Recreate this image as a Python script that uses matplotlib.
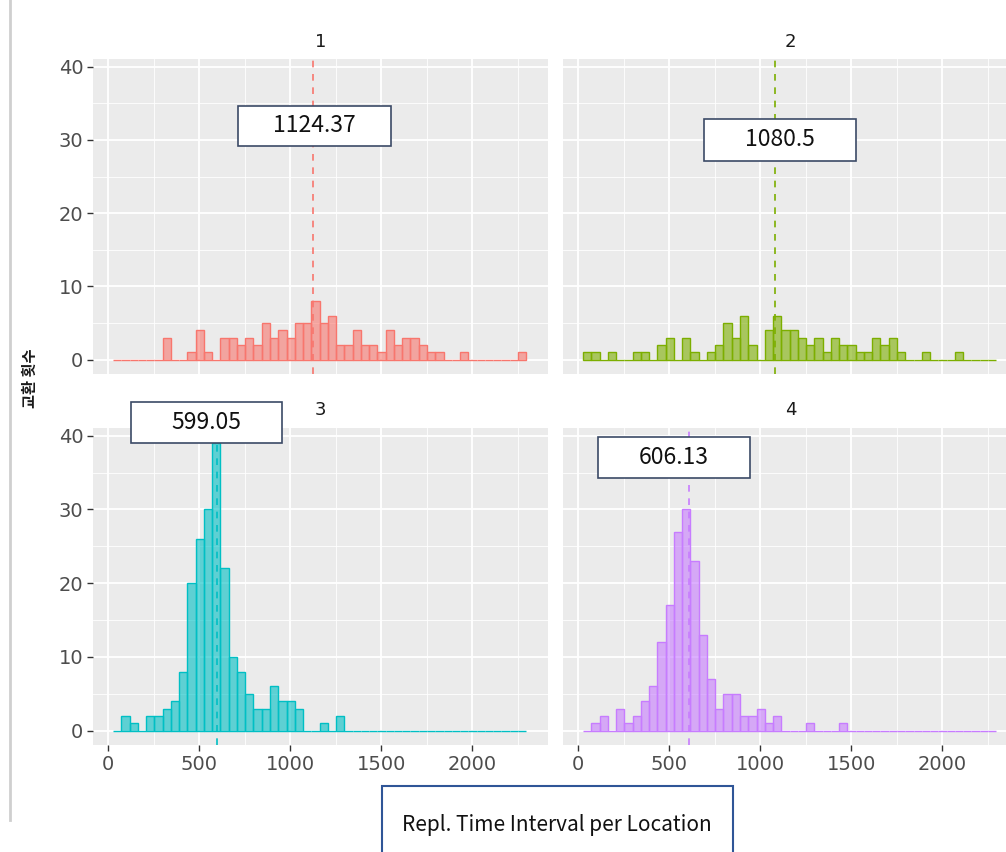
import matplotlib
matplotlib.use("Agg")
import matplotlib.pyplot as plt
from matplotlib.patches import Rectangle
from matplotlib.lines import Line2D
from matplotlib.colors import to_rgba
import numpy as np

plt.rcParams["font.family"] = ["DejaVu Sans"]

W, H = 1006, 852

# 50 histogram bins shared by all facets
bin_lo = 26.0
bin_w = 45.4

counts_1 = [0, 0, 0, 0, 0, 0, 3, 0, 0, 1, 4, 1, 0, 3, 3, 2, 3, 2, 5, 3,
            4, 3, 5, 5, 8, 5, 6, 2, 2, 4, 2, 2, 1, 4, 2, 3, 3, 2, 1, 1,
            0, 0, 1, 0, 0, 0, 0, 0, 0, 1]
counts_2 = [1, 1, 0, 1, 0, 0, 1, 1, 0, 2, 3, 0, 3, 1, 0, 1, 2, 5, 3, 6,
            2, 0, 4, 6, 4, 4, 3, 2, 3, 1, 3, 2, 2, 1, 1, 3, 2, 3, 1, 0,
            0, 1, 0, 0, 0, 1, 0, 0, 0, 0]
counts_3 = [0, 2, 1, 0, 2, 2, 3, 4, 8, 20, 26, 30, 39, 22, 10, 8, 5, 3, 3, 6,
            4, 4, 3, 0, 0, 1, 0, 2, 0, 0, 0, 0, 0, 0, 0, 0, 0, 0, 0, 0,
            0, 0, 0, 0, 0, 0, 0, 0, 0, 0]
counts_4 = [0, 1, 2, 0, 3, 1, 2, 4, 6, 12, 17, 27, 30, 23, 13, 7, 3, 5, 5, 2,
            2, 3, 1, 2, 0, 0, 0, 1, 0, 0, 0, 1, 0, 0, 0, 0, 0, 0, 0, 0,
            0, 0, 0, 0, 0, 0, 0, 0, 0, 0]

means = [1124.37, 1080.5, 599.05, 606.13]
facet_labels = ["1", "2", "3", "4"]
colors = ["#F8766D", "#7CAE00", "#00BFC4", "#C77CFF"]
x_ticks = [0, 500, 1000, 1500, 2000]
y_ticks = [0, 10, 20, 30, 40]
y_label = "교환 횟수"
x_label = "Repl. Time Interval per Location"

all_counts = [counts_1, counts_2, counts_3, counts_4]

fig = plt.figure(figsize=(W / 100, H / 100), dpi=100)


def px_rect(x0, y0, x1, y1):
    return [x0 / W, 1 - y1 / H, (x1 - x0) / W, (y1 - y0) / H]


# panel boxes in pixels (left, top, right, bottom); right column runs off the edge
panel_px = [(93, 59, 548, 374), (563, 59, 1018, 374),
            (93, 428, 548, 745), (563, 428, 1018, 745)]
strip_y = [42, 42, 410, 410]

edges = bin_lo + bin_w * np.arange(len(counts_1))

for i in range(4):
    ax = fig.add_axes(px_rect(*panel_px[i]))
    ax.set_facecolor("#EBEBEB")
    for s in ax.spines.values():
        s.set_visible(False)
    ax.set_xlim(-84, 2416)
    ax.set_ylim(-1.95, 41.05)
    ax.set_xticks(x_ticks)
    ax.set_yticks(y_ticks)
    ax.set_xticks([250, 750, 1250, 1750, 2250], minor=True)
    ax.set_yticks([5, 15, 25, 35], minor=True)
    ax.grid(True, which="major", color="white", lw=1.3)
    ax.grid(True, which="minor", color="white", lw=0.6)
    ax.set_axisbelow(True)
    ax.tick_params(which="minor", length=0)
    ax.tick_params(which="major", length=4, width=1, color="#333333",
                   labelcolor="#4D4D4D", labelsize=14, pad=3)
    if i in (1, 3):
        ax.tick_params(axis="y", left=False, labelleft=False)
    if i in (0, 1):
        ax.tick_params(axis="x", bottom=False, labelbottom=False)

    col = colors[i]
    ax.bar(edges, all_counts[i], width=bin_w, align="edge",
           facecolor=to_rgba(col, 0.6), edgecolor=col, linewidth=1.0)
    ax.axvline(means[i], color=col, lw=1.2, ls=(0, (4, 4)))

    cx = (panel_px[i][0] + panel_px[i][2]) / 2
    fig.text(cx / W, 1 - strip_y[i] / H, facet_labels[i], ha="center", va="center",
             fontsize=13, color="#1A1A1A")

# value boxes laid over the panels
box_px = [(238, 106, 391, 146), (704, 119, 856, 161),
          (131, 402, 282, 443), (598, 437, 750, 478)]
lab_font = ["Noto Sans CJK KR", "DejaVu Sans"]
for i in range(4):
    x0, y0, x1, y1 = box_px[i]
    fig.add_artist(Rectangle((x0 / W, 1 - y1 / H), (x1 - x0) / W, (y1 - y0) / H,
                             transform=fig.transFigure, facecolor="white",
                             edgecolor="#3B4A66", lw=1.2, zorder=10))
    fig.text((x0 + x1) / 2 / W, 1 - (y0 + y1) / 2 / H, "%g" % means[i],
             ha="center", va="center", fontsize=16.5, color="#111111",
             family=lab_font, zorder=11)

# x title box at bottom
fig.add_artist(Rectangle((382 / W, 1 - 880 / H), 351 / W, 94 / H,
                         transform=fig.transFigure, facecolor="white",
                         edgecolor="#2F5597", lw=1.5, zorder=10))
fig.text(557 / W, 1 - 825 / H, x_label, ha="center", va="center",
         fontsize=15, color="#111111", family=lab_font, zorder=11)

fig.text(30 / W, 1 - 378 / H, y_label, rotation=90, ha="center", va="center",
         fontsize=11, color="#1A1A1A", family=lab_font, fontweight="bold")

# thin gray border line on the left
fig.add_artist(Line2D([10 / W, 10 / W], [1, 1 - 820 / H], color="#CFCFCF", lw=2))

fig.savefig("out.png", dpi=100)
